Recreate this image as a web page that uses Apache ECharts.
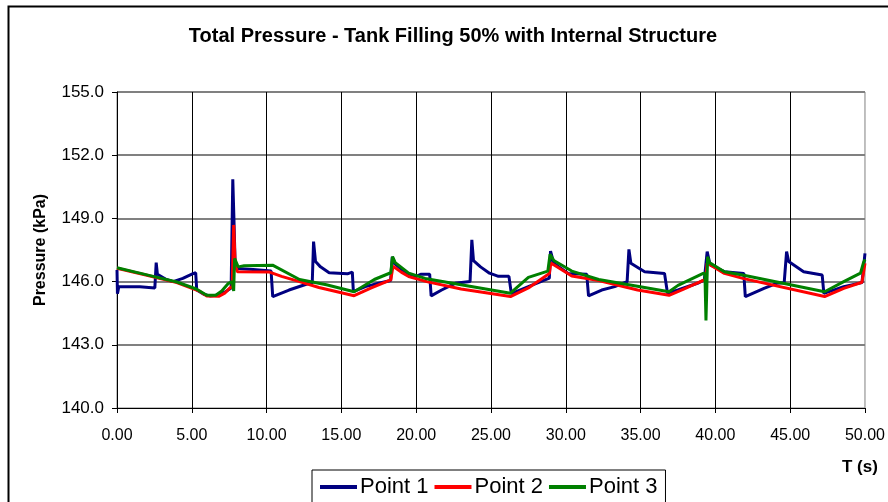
<!DOCTYPE html>
<html>
<head>
<meta charset="utf-8">
<script src="https://cdn.jsdelivr.net/npm/echarts@6/dist/echarts.min.js"></script>
<style>
	html, body { margin: 0; padding: 0; background: #fff; }
	#chartBox { width: 888px; height: 502px; }
</style>
</head>
<body>
<div id="chartBox"></div>
<script>
	// time (s) / pressure (kPa)
	var timeP1 = [0, 0.03, 0.12, 1.53, 1.6, 2.53, 2.62, 2.7, 3.3, 3.75, 4.4, 5.08, 5.26, 5.33, 5.8, 6.2, 6.8, 7.2, 7.63, 7.74, 7.82, 7.9, 8.0, 9.1, 10.3, 10.41, 11.5, 12.85, 13.05, 13.14, 13.27, 13.6, 14.18, 15.4, 15.73, 15.8, 16.6, 17.5, 18.29, 18.4, 18.55, 19.3, 19.95, 20.3, 20.9, 21.0, 21.7, 22.6, 23.6, 23.72, 23.83, 24.3, 24.9, 25.5, 26.2, 26.28, 26.36, 27.5, 28.9, 28.98, 29.2, 30.16, 31.4, 31.52, 32.4, 33.27, 34.1, 34.22, 34.35, 35.27, 36.6, 36.8, 37.5, 38.8, 39.26, 39.45, 39.65, 40.6, 41.9, 42.0, 43.25, 44.1, 44.6, 44.76, 44.9, 45.9, 47.14, 47.25, 48.58, 49.8, 50];
	var point1 = [146.55, 145.42, 145.76, 145.76, 145.7, 145.7, 146.9, 146.35, 146.1, 146.0, 146.15, 146.38, 146.42, 145.6, 145.4, 145.32, 145.36, 145.5, 145.7, 150.86, 148.9, 146.75, 146.62, 146.58, 146.5, 145.29, 145.6, 145.92, 145.92, 147.9, 146.95, 146.7, 146.42, 146.37, 146.45, 145.52, 145.76, 145.92, 146.05, 147.18, 146.87, 146.4, 146.23, 146.35, 146.35, 145.32, 145.6, 145.92, 146.0, 147.98, 147.0, 146.7, 146.4, 146.25, 146.25, 146.32, 145.43, 145.76, 146.16, 147.45, 146.87, 146.39, 146.35, 145.32, 145.6, 145.76, 146.0, 147.53, 146.87, 146.47, 146.39, 145.45, 145.6, 145.92, 146.08, 147.42, 146.79, 146.47, 146.39, 145.29, 145.68, 145.92, 145.95, 147.42, 146.95, 146.47, 146.31, 145.44, 145.76, 145.95, 147.34];

	var timeP2 = [0, 2.0, 4.0, 5.5, 6.0, 6.8, 7.2, 7.55, 7.7, 7.8, 7.9, 8.05, 10.2, 11.0, 12.2, 13.5, 15.85, 17.0, 18.3, 18.45, 19.0, 19.5, 20.7, 23.0, 26.3, 27.5, 28.9, 29.0, 29.3, 30.4, 32.2, 34.8, 36.9, 37.8, 39.15, 39.35, 39.45, 40.6, 41.9, 47.3, 48.58, 49.8, 50];
	var point2 = [146.63, 146.3, 145.95, 145.55, 145.32, 145.3, 145.45, 145.7, 145.75, 148.69, 146.8, 146.47, 146.45, 146.25, 146.0, 145.72, 145.33, 145.7, 146.08, 146.73, 146.45, 146.24, 146.0, 145.65, 145.29, 145.7, 146.38, 146.88, 146.75, 146.27, 146.05, 145.6, 145.35, 145.62, 146.05, 146.1, 146.88, 146.39, 146.14, 145.29, 145.68, 145.97, 146.87];

	var timeP3 = [0, 2.0, 4.0, 5.3, 6.0, 6.6, 7.0, 7.45, 7.7, 7.8, 7.86, 8.1, 8.5, 10.4, 12.2, 14.0, 15.85, 17.2, 18.3, 18.42, 18.6, 19.5, 20.6, 23.0, 26.3, 27.5, 28.8, 28.95, 29.2, 30.4, 32.2, 36.9, 37.5, 39.15, 39.3, 39.37, 39.42, 39.48, 39.6, 40.6, 41.9, 47.3, 48.58, 49.7, 49.9, 50];
	var point3 = [146.66, 146.32, 145.98, 145.65, 145.35, 145.35, 145.55, 145.92, 146.0, 145.55, 147.1, 146.7, 146.75, 146.78, 146.1, 145.85, 145.52, 146.1, 146.42, 147.18, 146.9, 146.4, 146.15, 145.85, 145.45, 146.2, 146.5, 147.3, 147.0, 146.5, 146.1, 145.52, 145.82, 146.38, 146.4, 144.15, 145.5, 147.18, 146.9, 146.47, 146.3, 145.52, 146.0, 146.4, 146.9, 147.05];

	var seriesNames = ['Point 1', 'Point 2', 'Point 3'];
	var seriesColors = ['#000080', '#ff0000', '#008000'];

	function pairs(ts, vs) {
		var out = [];
		for (var i = 0; i < ts.length; i++) {
			out.push([ts[i], vs[i]]);
		}
		return out;
	}

	var myChart = echarts.init(document.getElementById('chartBox'));
	var fontName = 'Liberation Sans, Arial, sans-serif';

	var option = {
		animation: false,
		textStyle: { fontFamily: fontName, color: '#000' },
		title: {
			text: 'Total Pressure - Tank Filling 50% with Internal Structure',
			left: 448,
			textAlign: 'center',
			top: 21,
			textStyle: { fontFamily: fontName, fontSize: 20, fontWeight: 'bold', color: '#000' }
		},
		legend: {
			left: 312,
			top: 470,
			itemWidth: 37,
			itemHeight: 4,
			itemGap: 6,
			icon: 'rect',
			padding: [6, 8, 12, 8],
			borderColor: '#000',
			borderWidth: 1,
			backgroundColor: '#fff',
			textStyle: { fontFamily: fontName, fontSize: 22, color: '#000', padding: [0, 0, 0, -2] },
			data: seriesNames
		},
		graphic: [{
				type: 'rect',
				z: -1,
				shape: { x: 8.5, y: 6.5, width: 1000, height: 1000 },
				style: { fill: null, stroke: '#000', lineWidth: 2 }
			},
			{
				type: 'text',
				left: 842,
				top: 459,
				style: { text: 'T (s)', font: 'bold 17px ' + fontName, fill: '#000' }
			}
		],
		grid: {
			left: 117,
			right: 20,
			top: 92,
			bottom: 94,
			show: true,
			borderColor: '#808080',
			borderWidth: 1
		},
		xAxis: {
			type: 'value',
			min: 0,
			max: 50,
			interval: 5,
			axisLine: { show: true, onZero: false, lineStyle: { color: '#000', width: 1 } },
			axisTick: { show: true, length: 5, lineStyle: { color: '#000' } },
			axisLabel: {
				margin: 20,
				fontSize: 16,
				color: '#000',
				showMaxLabel: true,
				formatter: function(v) { return v.toFixed(2); }
			},
			splitLine: { show: true, showMinLine: false, showMaxLine: false, lineStyle: { color: '#000', width: 1 } }
		},
		yAxis: {
			type: 'value',
			min: 140,
			max: 155,
			interval: 3,
			name: 'Pressure (kPa)',
			nameLocation: 'middle',
			nameGap: 68,
			nameTextStyle: { fontFamily: fontName, fontSize: 16, fontWeight: 'bold', color: '#000' },
			axisLine: { show: true, lineStyle: { color: '#000', width: 1 } },
			axisTick: { show: true, length: 5, lineStyle: { color: '#000' } },
			axisLabel: {
				margin: 13,
				fontSize: 17,
				color: '#000',
				formatter: function(v) { return v.toFixed(1); }
			},
			splitLine: { show: true, showMinLine: false, lineStyle: { color: '#808080', width: 2 } }
		},
		series: [{
				name: seriesNames[0],
				type: 'line',
				symbol: 'none',
				color: seriesColors[0],
				lineStyle: { width: 3, color: seriesColors[0] },
				data: pairs(timeP1, point1)
			},
			{
				name: seriesNames[1],
				type: 'line',
				symbol: 'none',
				color: seriesColors[1],
				lineStyle: { width: 3, color: seriesColors[1] },
				data: pairs(timeP2, point2)
			},
			{
				name: seriesNames[2],
				type: 'line',
				symbol: 'none',
				color: seriesColors[2],
				lineStyle: { width: 3, color: seriesColors[2] },
				data: pairs(timeP3, point3)
			}
		]
	};

	myChart.setOption(option);
</script>
</body>
</html>
